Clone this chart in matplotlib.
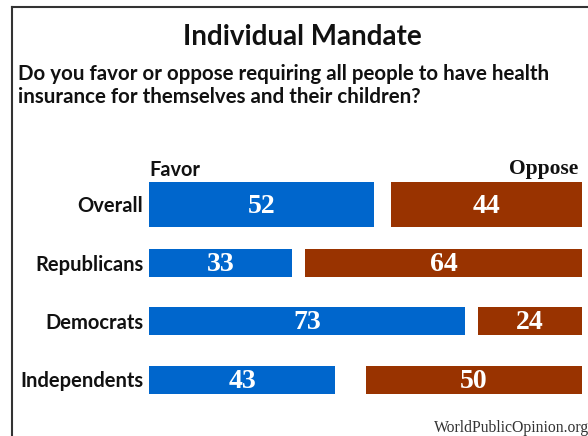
import matplotlib
matplotlib.use("Agg")
import matplotlib.pyplot as plt
from matplotlib.lines import Line2D

categories = ["Overall", "Republicans", "Democrats", "Independents"]
favor = [52, 33, 73, 43]
oppose = [44, 64, 24, 50]

title = "Individual Mandate"
subtitle = "Do you favor or oppose requiring all people to have health\ninsurance for themselves and their children?"
source = "WorldPublicOpinion.org"

BLUE = "#0066CC"
BROWN = "#993300"
W, H = 588, 436

fig = plt.figure(figsize=(W / 100, H / 100), dpi=100)
fig.patch.set_facecolor("white")

# frame lines (left and top)
fig.add_artist(Line2D([12 / W, 12 / W], [0, 1 - 7 / H], color="#333333", lw=1.5, transform=fig.transFigure))
fig.add_artist(Line2D([12 / W, 1], [1 - 7 / H, 1 - 7 / H], color="#333333", lw=1.5, transform=fig.transFigure))

ax_left, ax_right = 149 / W, 582 / W
ax_top, ax_bot = 175.33, 408.67
ax = fig.add_axes([ax_left, 1 - ax_bot / H, ax_right - ax_left, (ax_bot - ax_top) / H])
ax.set_xlim(0, 100)
ax.set_ylim(len(categories) - 0.5, -0.5)
ax.axis("off")

heights = [0.77 if i == 0 else 0.48 for i in range(len(categories))]
for i, (cat, f, o) in enumerate(zip(categories, favor, oppose)):
    h = heights[i]
    ax.barh(i, f, left=0, height=h, color=BLUE, edgecolor="none")
    ax.barh(i, o, left=100 - o, height=h, color=BROWN, edgecolor="none")
    ax.text(f / 2, i + 0.03, str(f), ha="center", va="center", color="white",
            fontsize=20, fontweight="bold", family="Liberation Serif")
    ax.text(100 - o / 2, i + 0.03, str(o), ha="center", va="center", color="white",
            fontsize=20, fontweight="bold", family="Liberation Serif")
    ax.text(-1.3, i + 0.03, cat, ha="right", va="center", color="#111111",
            fontsize=14.5, fontweight="bold", family="Lato")

fig.text(302 / W, 1 - 37 / H, title, ha="center", va="center", fontsize=20,
         fontweight="bold", family="Lato", color="#111111")
fig.text(18 / W, 1 - 64 / H, subtitle, ha="left", va="top", fontsize=14.8,
         fontweight="bold", family="Lato", color="#111111", linespacing=1.2)
fig.text(149 / W, 1 - 170 / H, "Favor", ha="left", va="center", fontsize=14.4,
         fontweight="bold", family="Lato", color="#111111")
fig.text(578 / W, 1 - 169 / H, "Oppose", ha="right", va="center", fontsize=15.5,
         fontweight="bold", family="Liberation Serif", color="#111111")
fig.text(434 / W, 1 - 428 / H, source, ha="left", va="center", fontsize=11.3,
         family="Liberation Serif", color="#333333")

fig.savefig("out.png", dpi=100, facecolor="white")
